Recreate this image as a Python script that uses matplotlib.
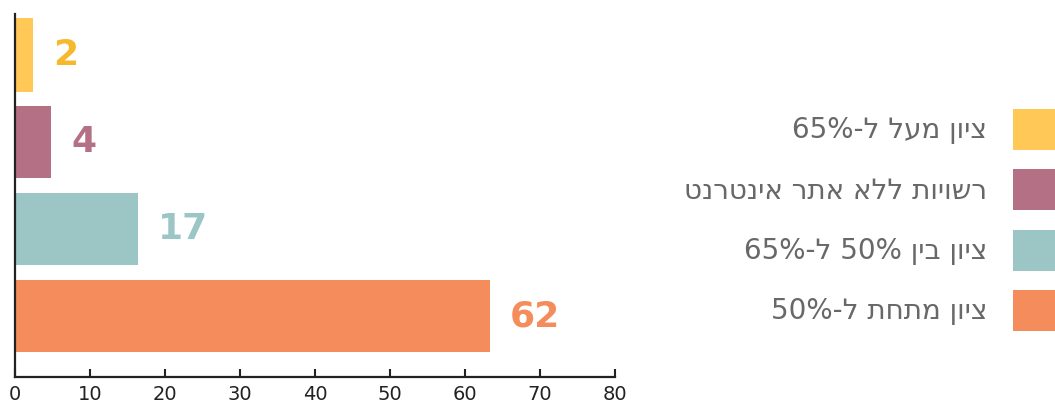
import re
import matplotlib.pyplot as plt

# Data (top to bottom as drawn)
labels_he = ["ציון מעל ל-65%", "רשויות ללא אתר אינטרנט", "ציון בין 50% ל-65%", "ציון מתחת ל-50%"]
values = [2, 4, 17, 62]
bar_lengths = [2.4, 4.8, 16.4, 63.3]  # bar ends as drawn in the picture
bar_colors = ["#FFC857", "#B47084", "#9CC5C6", "#F48C5C"]
value_colors = ["#F7B82C", "#B47084", "#9CC5C6", "#F48C5C"]
x_ticks = [0, 10, 20, 30, 40, 50, 60, 70, 80]

plt.rcParams["font.family"] = ["DejaVu Sans"]


def visual(s):
    # matplotlib has no bidi: reverse Hebrew, keep numbers readable
    r = s[::-1]
    return re.sub(r"[0-9%]+", lambda m: m.group(0)[::-1], r)


fig = plt.figure(figsize=(10.55, 4.03), dpi=100)
ax = fig.add_axes([15 / 1055, 1 - 377 / 403, 600 / 1055, 363 / 403])

for i, (length, val, c, vc, lab) in enumerate(zip(bar_lengths, values, bar_colors, value_colors, labels_he)):
    ax.barh(i, length, height=0.85 if i == 0 else 0.83, color=c, label=visual(lab))
    ax.annotate(str(val), xy=(length, i), xytext=(14.5, 0), textcoords="offset points",
                ha="left", va="center", fontsize=26, fontweight="bold", color=vc)

ax.set_xlim(0, 80)
ax.set_ylim(3.70, -0.47)
ax.set_xticks(x_ticks)
ax.set_yticks([])
ax.tick_params(axis="x", direction="in", length=6, width=1.5, labelsize=14, pad=6, colors="#222222")
for side in ["top", "right"]:
    ax.spines[side].set_visible(False)
for side in ["left", "bottom"]:
    ax.spines[side].set_linewidth(1.6)
    ax.spines[side].set_color("#222222")

leg = fig.legend(loc="center right", bbox_to_anchor=(1.0, 1 - 220 / 403),
                 frameon=False, markerfirst=False, fontsize=20,
                 handlelength=1.51, handleheight=1.89, handletextpad=0.93,
                 labelspacing=0.70, borderpad=0, borderaxespad=0)
for t in leg.get_texts():
    t.set_color("#686868")
    t.set_ha("right")

fig.savefig("out.png", dpi=100)
